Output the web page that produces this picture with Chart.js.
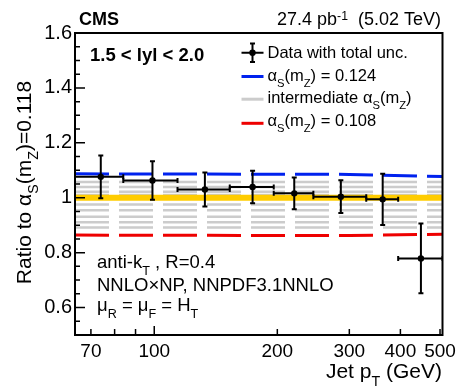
<!DOCTYPE html>
<html>
<head>
<meta charset="utf-8">
<script src="https://cdn.jsdelivr.net/npm/chart.js@4.4.1/dist/chart.umd.min.js"></script>
<style>
  html, body { margin: 0; padding: 0; background: #fff; }
  canvas { display: block; }
</style>
</head>
<body>
<canvas id="ratioChart" width="461" height="388"></canvas>
<script>
// --- pT binning (GeV) ---
const binLow    = [64, 84, 114, 153, 196, 245, 330, 395];
const binHigh   = [84, 114, 153, 196, 245, 330, 395, 507];
const binCenter = [74, 99, 133, 174, 220, 286, 362, 449];

// --- Data / theory ratio with total uncertainty ---
const dataRatio = [1.076, 1.063, 1.030, 1.039, 1.016, 1.004, 0.994, 0.779];
const dataErr   = [0.078, 0.070, 0.062, 0.059, 0.058, 0.060, 0.093, 0.127];

// --- Theory curves for alpha_s variations ---
const curvePt    = [64, 300, 507];
const curveHigh  = [1.087, 1.085, 1.077];   // alpha_s = 0.124
const curveLow   = [0.864, 0.862, 0.867];   // alpha_s = 0.108
const greyLevels = [1.057, 1.039, 1.022, 1.010, 0.975, 0.954, 0.931, 0.911, 0.892];
const nominal    = 1.0;

// --- Axis ticks ---
const xTickLabels = [70, 100, 200, 300, 400, 500];
const xTickMarks  = [70, 80, 90, 100, 200, 300, 400, 500];
const yTickLabels = [0.6, 0.8, 1.0, 1.2, 1.4, 1.6];

const FONT = 'Liberation Sans, Arial, Helvetica, sans-serif';
const DASH = [34, 10];

const flatLine = (level) => [{ x: curvePt[0], y: level }, { x: curvePt[curvePt.length - 1], y: level }];
const toPoints = (ys) => curvePt.map((x, i) => ({ x: x, y: ys[i] }));

// text with sub/superscripts: parts = [[text, kind]], kind '' | 'sub' | 'sup'
function drawRich(ctx, parts, x, y, size, align, bold) {
  const fontFor = k => (bold ? 'bold ' : '') + (k ? size * 0.68 : size) + 'px ' + FONT;
  let w = 0;
  parts.forEach(([t, k]) => { ctx.font = fontFor(k); w += ctx.measureText(t).width; });
  let cx = align === 'right' ? x - w : align === 'center' ? x - w / 2 : x;
  ctx.textAlign = 'left';
  ctx.textBaseline = 'alphabetic';
  parts.forEach(([t, k]) => {
    ctx.font = fontFor(k);
    const dy = k === 'sub' ? size * 0.38 : k === 'sup' ? -size * 0.3 : 0;
    ctx.fillText(t, cx, y + dy);
    cx += ctx.measureText(t).width;
  });
}

const errorBars = {
  id: 'errorBars',
  afterDatasetsDraw(chart) {
    const { ctx, chartArea: a, scales: { x, y } } = chart;
    ctx.save();
    ctx.beginPath();
    ctx.rect(a.left, a.top, a.right - a.left, a.bottom - a.top);
    ctx.clip();
    ctx.strokeStyle = '#000';
    ctx.fillStyle = '#000';
    ctx.lineWidth = 2;
    dataRatio.forEach((v, i) => {
      const px = x.getPixelForValue(binCenter[i]);
      const py = y.getPixelForValue(v);
      const xl = x.getPixelForValue(binLow[i]);
      const xr = x.getPixelForValue(binHigh[i]);
      const yt = y.getPixelForValue(v + dataErr[i]);
      const yb = y.getPixelForValue(v - dataErr[i]);
      ctx.beginPath();
      ctx.moveTo(xl, py); ctx.lineTo(xr, py);
      ctx.moveTo(px, yt); ctx.lineTo(px, yb);
      // end caps
      ctx.moveTo(px - 2.5, yt); ctx.lineTo(px + 2.5, yt);
      ctx.moveTo(px - 2.5, yb); ctx.lineTo(px + 2.5, yb);
      ctx.moveTo(xl, py - 2.5); ctx.lineTo(xl, py + 2.5);
      ctx.moveTo(xr, py - 2.5); ctx.lineTo(xr, py + 2.5);
      ctx.stroke();
      ctx.beginPath();
      ctx.arc(px, py, 3.2, 0, Math.PI * 2);
      ctx.fill();
    });
    ctx.restore();
  }
};

const frameAndLabels = {
  id: 'frameAndLabels',
  afterDraw(chart) {
    const { ctx, chartArea: a, scales: { x, y } } = chart;
    ctx.save();
    ctx.strokeStyle = '#000';
    ctx.fillStyle = '#000';

    // inward tick marks
    ctx.lineWidth = 1.5;
    ctx.beginPath();
    xTickMarks.forEach(v => {
      const px = x.getPixelForValue(v);
      const len = v === 100 ? 9 : 6;
      ctx.moveTo(px, a.bottom); ctx.lineTo(px, a.bottom - len);
    });
    for (let k = 0; k <= 22; k++) {
      const v = 0.5 + k * 0.05;
      const py = y.getPixelForValue(v);
      const major = yTickLabels.some(t => Math.abs(t - v) < 1e-6);
      ctx.moveTo(a.left, py); ctx.lineTo(a.left + (major ? 10 : 5), py);
    }
    ctx.stroke();

    // frame
    ctx.lineWidth = 2;
    ctx.strokeRect(a.left, a.top, a.right - a.left, a.bottom - a.top);

    // header
    drawRich(ctx, [['CMS', '']], 79, 25, 18, 'left', true);
    drawRich(ctx, [['27.4 pb', ''], ['-1', 'sup'], ['  (5.02 TeV)', '']], 441, 25, 18, 'right');
    drawRich(ctx, [['1.5 < lyl < 2.0', '']], 90, 61, 18.5, 'left', true);

    // axis titles
    drawRich(ctx, [['Jet p', ''], ['T', 'sub'], [' (GeV)', '']], 442, 378, 21, 'right');
    ctx.save();
    ctx.translate(30.5, 182.5);
    ctx.rotate(-Math.PI / 2);
    drawRich(ctx, [['Ratio to α', ''], ['S', 'sub'], ['(m', ''], ['Z', 'sub'], [')=0.118', '']], 0, 0, 21, 'center');
    ctx.restore();

    // legend
    const lx0 = 241.5, lx1 = 263.5, tx = 267.5, ls = 16.5;
    ctx.lineWidth = 2;
    ctx.beginPath();
    ctx.moveTo(lx0, 52.7); ctx.lineTo(lx1, 52.7);
    ctx.moveTo((lx0 + lx1) / 2, 43.5); ctx.lineTo((lx0 + lx1) / 2, 62);
    ctx.moveTo((lx0 + lx1) / 2 - 2.5, 43.5); ctx.lineTo((lx0 + lx1) / 2 + 2.5, 43.5);
    ctx.moveTo((lx0 + lx1) / 2 - 2.5, 62); ctx.lineTo((lx0 + lx1) / 2 + 2.5, 62);
    ctx.stroke();
    ctx.beginPath();
    ctx.arc((lx0 + lx1) / 2, 52.7, 3.2, 0, Math.PI * 2);
    ctx.fill();
    const legendLines = [['#0022ee', 76.5], ['#cccccc', 99.2], ['#ee0000', 123.3]];
    ctx.lineWidth = 3;
    legendLines.forEach(([c, ly]) => {
      ctx.strokeStyle = c;
      ctx.beginPath(); ctx.moveTo(lx0, ly); ctx.lineTo(lx1, ly); ctx.stroke();
    });
    drawRich(ctx, [['Data with total unc.', '']], tx, 57.5, ls, 'left');
    drawRich(ctx, [['α', ''], ['S', 'sub'], ['(m', ''], ['Z', 'sub'], [') = 0.124', '']], tx, 80.5, ls, 'left');
    drawRich(ctx, [['intermediate α', ''], ['S', 'sub'], ['(m', ''], ['Z', 'sub'], [')', '']], tx, 102.5, ls, 'left');
    drawRich(ctx, [['α', ''], ['S', 'sub'], ['(m', ''], ['Z', 'sub'], [') = 0.108', '']], tx, 126, ls, 'left');

    // jet / theory settings
    drawRich(ctx, [['anti-k', ''], ['T', 'sub'], [' , R=0.4', '']], 97, 267.5, 18.5, 'left');
    drawRich(ctx, [['NNLO×NP, NNPDF3.1NNLO', '']], 97, 290.5, 18.5, 'left');
    drawRich(ctx, [['μ', ''], ['R', 'sub'], [' = μ', ''], ['F', 'sub'], [' = H', ''], ['T', 'sub']], 97, 311, 18.5, 'left');
    ctx.restore();
  }
};

const lineStyle = (color, width, dash) => ({
  showLine: true,
  borderColor: color,
  borderWidth: width,
  borderDash: dash,
  pointRadius: 0,
  fill: false,
  tension: 0
});

const datasets = [
  Object.assign({ data: flatLine(nominal), order: 1 }, lineStyle('#ffcc00', 6, [])),
  Object.assign({ data: toPoints(curveHigh), order: 2 }, lineStyle('#0022ee', 3, DASH)),
  Object.assign({ data: toPoints(curveLow), order: 2 }, lineStyle('#ee0000', 3, DASH))
].concat(greyLevels.map(level =>
  Object.assign({ data: flatLine(level), order: 3 }, lineStyle('#cccccc', 2.5, DASH))
));

new Chart(document.getElementById('ratioChart'), {
  type: 'scatter',
  data: { datasets: datasets },
  options: {
    responsive: false,
    animation: false,
    devicePixelRatio: 1,
    layout: { padding: { top: 33, right: 18, left: 0, bottom: 0 } },
    plugins: { legend: { display: false }, tooltip: { enabled: false } },
    scales: {
      x: {
        type: 'logarithmic',
        min: 64,
        max: 507,
        grid: { display: false, drawTicks: false },
        border: { display: false },
        afterBuildTicks: (s) => { s.ticks = xTickLabels.map(v => ({ value: v })); },
        afterFit: (s) => { s.height = 53; },
        ticks: {
          autoSkip: false,
          maxRotation: 0,
          padding: 5,
          color: '#000',
          font: { family: FONT, size: 19 },
          callback: (v) => String(v)
        }
      },
      y: {
        type: 'linear',
        min: 0.5,
        max: 1.6,
        grid: { display: false, drawTicks: false },
        border: { display: false },
        afterBuildTicks: (s) => { s.ticks = yTickLabels.map(v => ({ value: v })); },
        afterFit: (s) => { s.width = 75; },
        ticks: {
          padding: 3,
          color: '#000',
          font: { family: FONT, size: 20 },
          callback: (v) => String(+(+v).toFixed(1))
        }
      }
    }
  },
  plugins: [errorBars, frameAndLabels]
});
</script>
</body>
</html>
